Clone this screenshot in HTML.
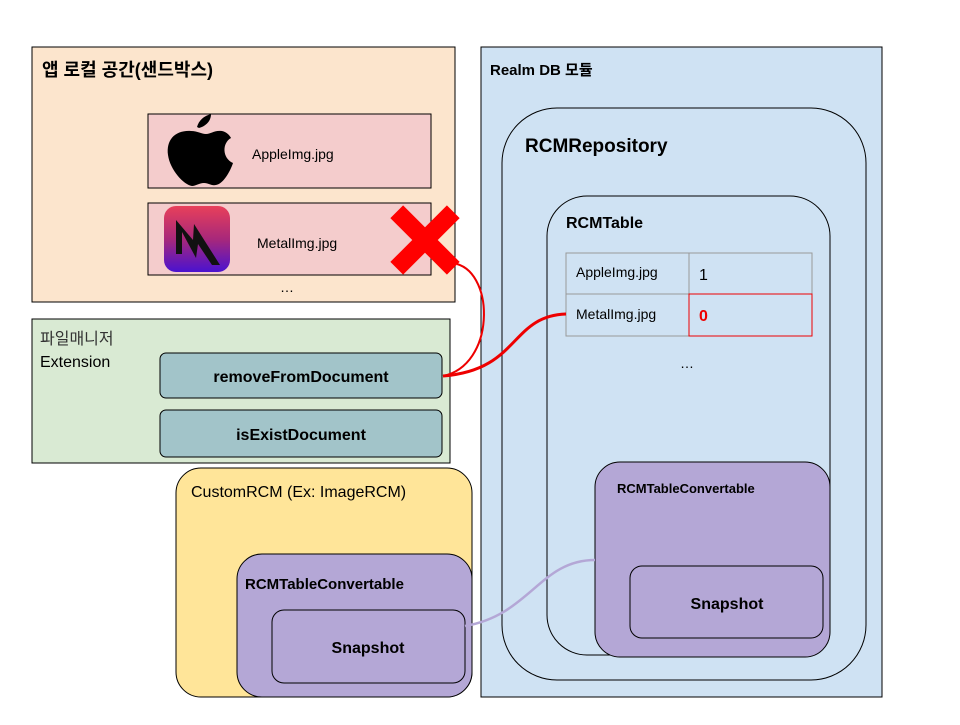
<!DOCTYPE html>
<html><head><meta charset="utf-8"><style>
body{margin:0;background:#fff;width:960px;height:720px;overflow:hidden}
text{font-family:"Liberation Sans","Noto Sans CJK KR",sans-serif;fill:#000}
</style></head><body>
<svg width="960" height="720" viewBox="0 0 960 720" xmlns="http://www.w3.org/2000/svg">
<defs><linearGradient id="mg" x1="0" y1="0" x2="0" y2="1"><stop offset="0" stop-color="#e8405a"/><stop offset="0.5" stop-color="#a8287a"/><stop offset="1" stop-color="#4a12d0"/></linearGradient></defs>
<!-- app local -->
<rect x="32" y="47" width="423" height="255" fill="#fce5cd" stroke="#000"/>
<text x="42" y="76" font-size="18" font-weight="bold">앱 로컬 공간(샌드박스)</text>
<rect x="148" y="114" width="283" height="74" fill="#f4cccc" stroke="#000"/>
<path d="M197,127 C199,120 204,116 211,114 C211,121 206,126 199,128 Z" fill="#000"/>
<path d="M191,131 C198,131 201,134 206,134 C211,134 214,130 222,131 C227,132 230,136 231,138 C222,143 222,158 233,163 C230,172 223,184 216,185 C211,186 209,183 204,183 C199,183 196,186 192,186 C184,185 170,170 168,155 C166,140 175,130 191,131 Z" fill="#000"/>
<text x="252" y="159" font-size="14">AppleImg.jpg</text>
<rect x="148" y="203" width="283" height="72" fill="#f4cccc" stroke="#000"/>
<rect x="164" y="206" width="66" height="66" rx="12" fill="url(#mg)"/>
<path d="M176,220 L176,254 L182,254 L182,232 L196,258 L198,244 L212,265 L220,265 L194,224 L193,240 Z" fill="#111"/>
<text x="257" y="248" font-size="14">MetalImg.jpg</text>
<text x="280" y="292" font-size="14">…</text>
<!-- red X -->
<g transform="translate(425,240) rotate(45)"><rect x="-40" y="-9" width="80" height="18" fill="#f00"/><rect x="-9" y="-40" width="18" height="80" fill="#f00"/></g>
<!-- realm -->
<rect x="481" y="47" width="401" height="650" fill="#cfe2f3" stroke="#000"/>
<text x="490" y="75" font-size="15" font-weight="bold">Realm DB 모듈</text>
<rect x="502" y="108" width="364" height="572" rx="55" fill="#cfe2f3" stroke="#000"/>
<text x="525" y="152" font-size="19" font-weight="bold">RCMRepository</text>
<rect x="547" y="196" width="283" height="459" rx="40" fill="#cfe2f3" stroke="#000"/>
<text x="566" y="228" font-size="16" font-weight="bold">RCMTable</text>
<rect x="566" y="253" width="246" height="83" fill="#cfe2f3" stroke="#999"/>
<line x1="566" y1="294" x2="812" y2="294" stroke="#999"/>
<line x1="689" y1="253" x2="689" y2="336" stroke="#999"/>
<rect x="689" y="294" width="123" height="42" fill="none" stroke="#e00"/>
<text x="576" y="277" font-size="14">AppleImg.jpg</text>
<text x="699" y="280" font-size="16">1</text>
<text x="576" y="319" font-size="14">MetalImg.jpg</text>
<text x="699" y="321" font-size="16" font-weight="bold" style="fill:#e00">0</text>
<text x="680" y="368" font-size="14">…</text>
<rect x="595" y="462" width="235" height="195" rx="25" fill="#b4a7d6" stroke="#000"/>
<text x="617" y="493" font-size="13" font-weight="bold">RCMTableConvertable</text>
<rect x="630" y="566" width="193" height="72" rx="12" fill="#b4a7d6" stroke="#000"/>
<text x="727" y="609" font-size="16" font-weight="bold" text-anchor="middle">Snapshot</text>
<!-- file manager -->
<rect x="32" y="319" width="418" height="144" fill="#d9ead3" stroke="#000"/>
<text x="40" y="344" font-size="16" style="fill:#333">파일매니저</text>
<text x="40" y="367" font-size="16">Extension</text>
<rect x="160" y="353" width="282" height="45" rx="6" fill="#a2c4c9" stroke="#000"/>
<text x="301" y="382" font-size="16" font-weight="bold" text-anchor="middle">removeFromDocument</text>
<rect x="160" y="410" width="282" height="47" rx="6" fill="#a2c4c9" stroke="#000"/>
<text x="301" y="440" font-size="16" font-weight="bold" text-anchor="middle">isExistDocument</text>
<!-- custom -->
<rect x="176" y="468" width="296" height="229" rx="25" fill="#ffe599" stroke="#000"/>
<text x="191" y="497" font-size="16">CustomRCM (Ex: ImageRCM)</text>
<rect x="237" y="554" width="235" height="143" rx="25" fill="#b4a7d6" stroke="#000"/>
<text x="245" y="589" font-size="15" font-weight="bold">RCMTableConvertable</text>
<rect x="272" y="610" width="193" height="73" rx="12" fill="#b4a7d6" stroke="#000"/>
<text x="368" y="653" font-size="16" font-weight="bold" text-anchor="middle">Snapshot</text>
<!-- connectors -->
<path d="M457,264 C495,275 495,365 443,376" fill="none" stroke="#e00" stroke-width="2"/>
<path d="M443,376 C520,370 510,316 566,314" fill="none" stroke="#e00" stroke-width="3"/>
<path d="M465,626 C530,615 540,560 595,560" fill="none" stroke="#b4a7d6" stroke-width="2.5"/>
</svg>
</body></html>
